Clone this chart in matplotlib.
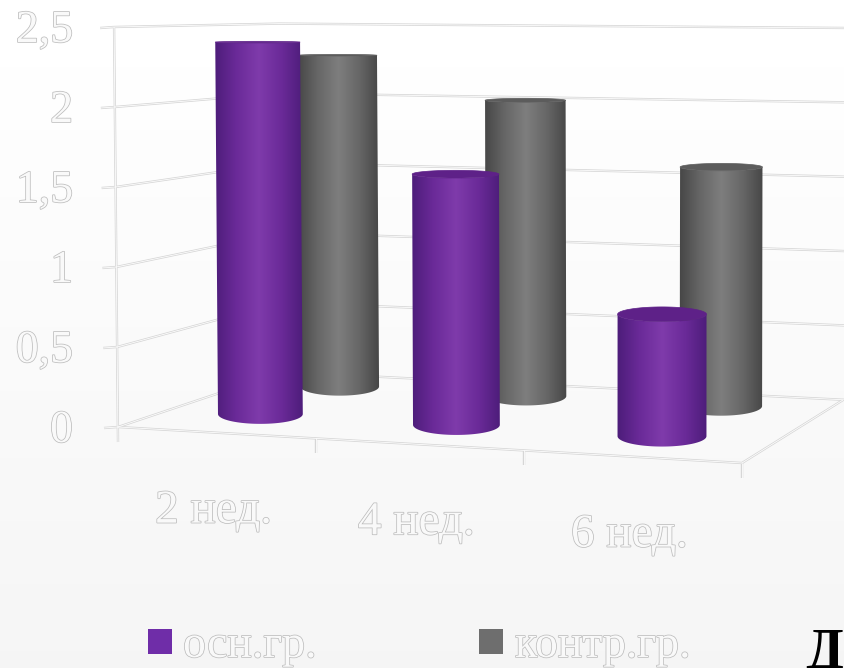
import numpy as np
import matplotlib
matplotlib.use("Agg")
import matplotlib.pyplot as plt
import matplotlib.patheffects as pe
from matplotlib.colors import LinearSegmentedColormap
from matplotlib.patches import Rectangle
from matplotlib.path import Path

categories = ["2 нед.", "4 нед.", "6 нед."]
series_names = ["осн.гр.", "контр.гр."]
osn_values = [2.4, 1.58, 0.75]
kontr_values = [2.29, 2.0, 1.58]
tick_values = [0, 0.5, 1, 1.5, 2, 2.5]
tick_labels = ["0", "0,5", "1", "1,5", "2", "2,5"]

FONT = "Liberation Serif"
W, H = 844, 668

# floor corners of the 3d box in pixels: front left, front right, back right, back left
FLOOR = [(118, 427), (742, 463), (843, 400), (282, 372)]
UNIT_HEIGHT = 160


def floor_matrix():
    src = [(0, 0), (3, 0), (3, 1), (0, 1)]
    a = []
    b = []
    for (u, v), (x, y) in zip(src, FLOOR):
        a.append([u, v, 1, 0, 0, 0, -u * x, -v * x])
        a.append([0, 0, 0, u, v, 1, -u * y, -v * y])
        b += [x, y]
    h = np.linalg.solve(np.array(a, dtype=float), np.array(b, dtype=float))
    return np.append(h, 1).reshape(3, 3)


M = floor_matrix()


def depth_scale(u, v):
    w = M[2, 0] * u + M[2, 1] * v + M[2, 2]
    return 1 / w


def unit_height(u, v):
    # back wall comes out slightly shorter than the floor alone would give
    return UNIT_HEIGHT * depth_scale(u, v) * (1 - 0.02 * v)


def proj(u, v, val=0):
    p = M @ np.array([u, v, 1.0])
    x, y = p[0] / p[2], p[1] / p[2]
    y = y - val * unit_height(u, v)
    # verticals converge a little towards the bottom
    x = x + (x - 640) * 0.003 * val
    return x, y


def ry_at(y):
    return max((y - 20) * 0.025, 0.8)


def soft_line(ax, xs, ys, z=1):
    ax.plot(xs, ys, color="#d6d6d6", lw=1.7, zorder=z, solid_capstyle="butt")
    ax.plot(xs, ys, color="#fdfdfd", lw=0.6, zorder=z + 0.1, solid_capstyle="butt")


def outlined(ax, x, y, s, size, ha="center", va="baseline"):
    t = ax.text(x, y, s, fontsize=size, family=FONT, ha=ha, va=va, color="#f9f9f9", zorder=6)
    t.set_path_effects([pe.withStroke(linewidth=1.1, foreground="#bdbdbd")])
    return t


def cylinder(ax, u, v, val, colors, top_color, z, r=0.272):
    x0, y0 = proj(u, v, 0)
    x1, y1 = proj(u, v, val)
    rx = r * UNIT_HEIGHT * depth_scale(u, v)
    ry0 = ry_at(y0)
    ry1 = ry_at(y1)
    t = np.linspace(np.pi, 0, 60)
    # bottom arc from left to right, then top arc back
    bx = x0 + rx * np.cos(t)
    by = y0 + ry0 * np.sin(t)
    tx = x1 + rx * np.cos(t[::-1])
    ty = y1 + ry1 * np.sin(t[::-1])
    verts = np.vstack([np.c_[bx, by], np.c_[tx, ty], [[bx[0], by[0]]]])
    side = Path(verts)
    cmap = LinearSegmentedColormap.from_list("shade", colors)
    grad = np.linspace(0, 1, 200).reshape(1, -1)
    left = min(x0, x1) - rx - 2
    right = max(x0, x1) + rx + 2
    im = ax.imshow(grad, cmap=cmap, extent=[left, right, y0 + ry0 + 2, y1 - ry1 - 2],
                   aspect="auto", zorder=z, interpolation="bilinear")
    im.set_clip_path(side, ax.transData)
    ta = np.linspace(0, 2 * np.pi, 80)
    ax.fill(x1 + rx * np.cos(ta), y1 + ry1 * np.sin(ta), color=top_color, zorder=z + 0.1, lw=0.5)


fig = plt.figure(figsize=(W / 100, H / 100), dpi=100)
ax = fig.add_axes([0, 0, 1, 1])

bg = np.linspace(1.0, 0.96, 200).reshape(-1, 1)
ax.imshow(bg, cmap="gray", vmin=0, vmax=1, extent=[0, W, H, 0], aspect="auto", zorder=0)

# walls and floor
for val in tick_values:
    xl, yl = proj(0, 0, val)
    xb, yb = proj(0, 1, val)
    xr, yr = proj(3, 1, val)
    soft_line(ax, [xl - 14, xl, xb, xr + 5], [yl + 1, yl, yb, yr])
xa, ya = proj(0, 0, 0)
xt, yt = proj(0, 0, tick_values[-1])
soft_line(ax, [xa, xt], [ya + 15, yt])
for i in range(1, 4):
    xf, yf = proj(i, 0, 0)
    soft_line(ax, [xf, xf], [yf, yf + 15])
xf0, yf0 = proj(0, 0, 0)
xf3, yf3 = proj(3, 0, 0)
xb3, yb3 = proj(3, 1, 0)
soft_line(ax, [xf0, xf3, xb3], [yf0, yf3, yb3])

purple = ["#4b1c78", "#6a2a98", "#7f3bab", "#6a2a98", "#4b1c78"]
gray = ["#444444", "#666666", "#7e7e7e", "#666666", "#444444"]

for i in range(len(categories)):
    cylinder(ax, i + 0.485, 0.8, kontr_values[i], gray, "#5c5c5c", 2 + i * 0.01, r=0.268)
for i in range(len(categories)):
    cylinder(ax, i + 0.47, 0.3, osn_values[i], purple, "#5e2188", 3 + i * 0.01)

# value labels
for val, lab in zip(tick_values, tick_labels):
    x, y = proj(0, 0, val)
    outlined(ax, 73, y + 15, lab, 33, ha="right")

# category labels below the front edge
for i, lab in enumerate(categories):
    x, y = proj(i + 0.5, 0, 0)
    outlined(ax, x - 2, y + 90, lab, 34)

# legend
ax.add_patch(Rectangle((148, 629), 24, 25, color="#6f2da8", zorder=5, lw=0))
ax.add_patch(Rectangle((479, 629), 24, 25, color="#6e6e6e", zorder=5, lw=0))
outlined(ax, 183, 657, series_names[0], 33, ha="left")
outlined(ax, 515, 657, series_names[1], 33, ha="left")

ax.text(805, 668, "Д", fontsize=40, family=FONT, fontweight="bold", color="black", zorder=6)

ax.set_xlim(0, W)
ax.set_ylim(H, 0)
ax.axis("off")
fig.savefig("out.png", dpi=100)
